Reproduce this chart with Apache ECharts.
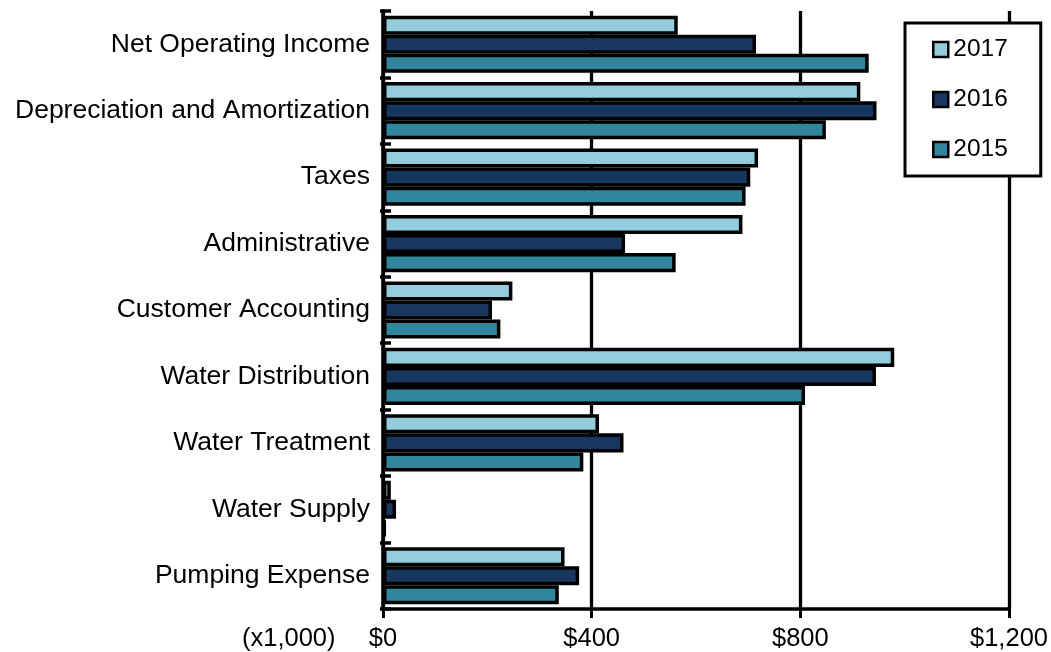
<!DOCTYPE html>
<html>
<head>
<meta charset="utf-8">
<script src="https://cdn.jsdelivr.net/npm/echarts@6/dist/echarts.min.js"></script>
<style>
  html, body { margin: 0; padding: 0; background: #fff; }
  #report { width: 1051px; height: 652px; }
</style>
</head>
<body>
<div id="report"></div>
<script>
// categories top to bottom
var categories = ['Net Operating Income', 'Depreciation and Amortization', 'Taxes', 'Administrative',
    'Customer Accounting', 'Water Distribution', 'Water Treatment', 'Water Supply', 'Pumping Expense'];
// values in $ thousands
var data2017 = [565, 915, 719, 689, 248, 980, 414, 15, 348];
var data2016 = [715, 946, 704, 464, 209, 945, 461, 25, 376];
var data2015 = [931, 849, 695, 561, 225, 809, 384, 5, 337];
var tickLabels = ['$0', '$400', '$800', '$1,200'];

var font = '"Liberation Sans", Arial, sans-serif';

function barSeries(name, color, values) {
    return {
        name: name,
        type: 'bar',
        yAxisIndex: 0,
        data: values,
        barGap: '0%',
        barCategoryGap: '14%',
        itemStyle: { color: color, borderColor: '#000', borderWidth: 3.5 }
    };
}

var option = {
    animation: false,
    backgroundColor: '#fff',
    textStyle: { fontFamily: font },
    grid: { left: 383, right: 42, top: 11, bottom: 43 },
    legend: {
        orient: 'vertical',
        left: 905,
        top: 23,
        padding: [14, 33, 14, 27],
        itemGap: 25,
        itemWidth: 15,
        itemHeight: 15,
        icon: 'rect',
        backgroundColor: '#fff',
        borderColor: '#000',
        borderWidth: 3,
        borderRadius: 0,
        itemStyle: { borderColor: '#000', borderWidth: 2.5 },
        textStyle: { fontSize: 24.5, color: '#000', fontFamily: font },
        data: ['2017', '2016', '2015']
    },
    xAxis: {
        type: 'value',
        min: 0,
        max: 1200,
        interval: 400,
        axisLine: { show: true, lineStyle: { color: '#000', width: 3.5 } },
        axisTick: { show: true, length: 9, lineStyle: { color: '#000', width: 3 } },
        axisLabel: {
            margin: 17,
            fontSize: 25.5,
            color: '#000',
            fontFamily: font,
            formatter: function (v) { return tickLabels[Math.round(v / 400)]; }
        },
        splitLine: { show: true, lineStyle: { color: '#000', width: 3.3 } }
    },
    yAxis: [
        {
            type: 'category',
            position: 'left',
            inverse: true,
            data: categories,
            axisLine: { show: true, lineStyle: { color: '#000', width: 3.5 } },
            axisTick: { show: true, inside: true, length: 8, lineStyle: { color: '#000', width: 3.5 } },
            axisLabel: { margin: 13, fontSize: 26.5, color: '#000', fontFamily: font },
            splitLine: { show: false }
        },
        {
            type: 'category',
            position: 'left',
            inverse: true,
            data: categories,
            axisLine: { show: false },
            axisTick: { show: true, length: 3, lineStyle: { color: '#000', width: 3.5 } },
            axisLabel: { show: false },
            splitLine: { show: false }
        }
    ],
    graphic: [
        {
            type: 'text',
            left: 242,
            top: 626,
            style: { text: '(x1,000)', fontSize: 25.5, fontFamily: font, fill: '#000' }
        }
    ],
    series: [
        barSeries('2017', '#93CDDD', data2017),
        barSeries('2016', '#17375E', data2016),
        barSeries('2015', '#31859C', data2015)
    ]
};

var myChart = echarts.init(document.getElementById('report'));
myChart.setOption(option);
</script>
</body>
</html>
